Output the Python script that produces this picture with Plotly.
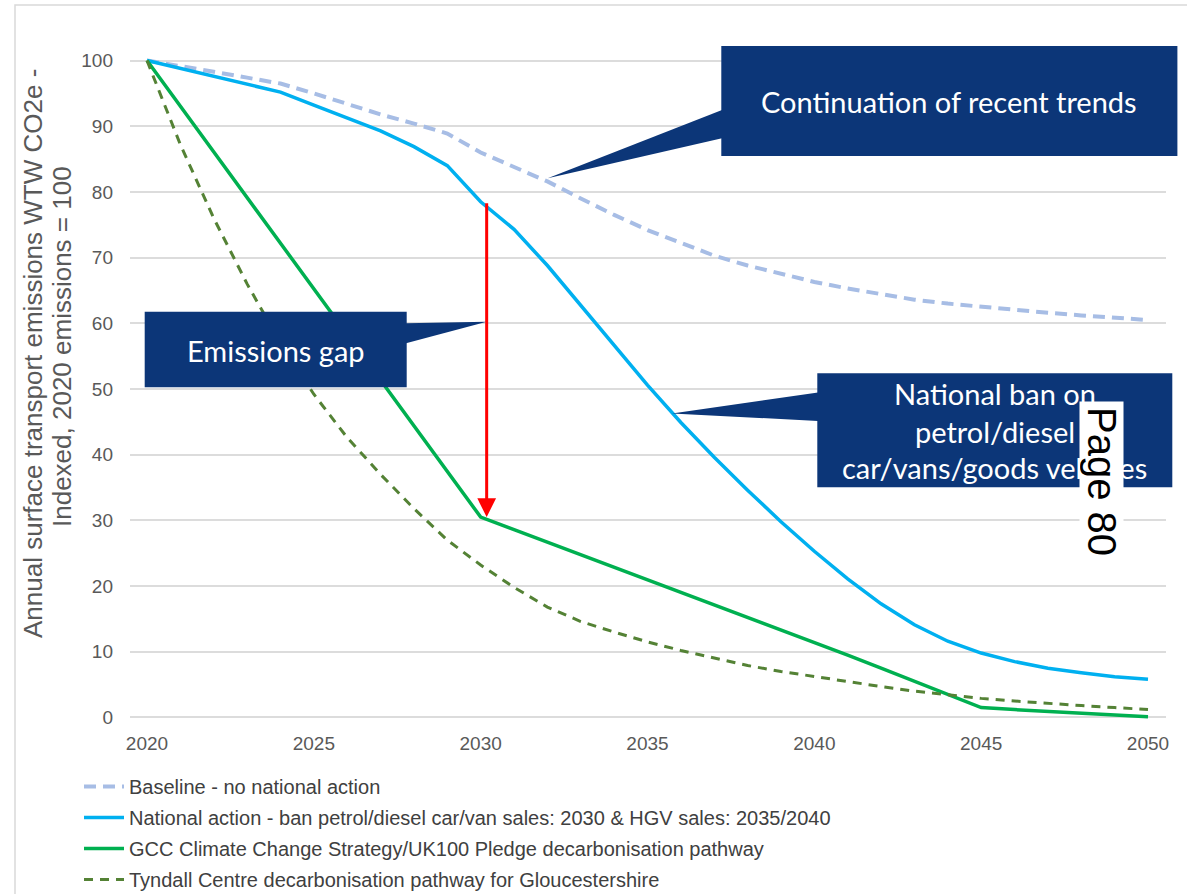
import plotly.graph_objects as go

# ---- data -------------------------------------------------------------
years = list(range(2020, 2051))

baseline = [100, 99.2, 98.3, 97.4, 96.5, 95.0, 93.4, 91.8, 90.4, 88.9,
            86.0, 83.8, 81.6, 79.0, 76.5, 74.2, 72.2, 70.3, 68.8, 67.5,
            66.3, 65.3, 64.4, 63.6, 63.0, 62.5, 62.0, 61.6, 61.2, 60.8, 60.5]

national = [100, 98.8, 97.5, 96.3, 95.2, 93.2, 91.3, 89.3, 86.9, 84.0,
            78.5, 74.3, 68.8, 62.8, 56.7, 50.6, 44.9, 39.6, 34.6, 29.8,
            25.3, 21.1, 17.3, 14.1, 11.6, 9.8, 8.5, 7.5, 6.8, 6.2, 5.8]

gcc = [100, 93.05, 86.1, 79.15, 72.2, 65.25, 58.3, 51.35, 44.4, 37.45,
       30.5, 28.6, 26.7, 24.8, 22.9, 21.0, 19.1, 17.2, 15.3, 13.4,
       11.5, 9.5, 7.5, 5.5, 3.5, 1.5, 1.2, 0.9, 0.6, 0.3, 0.1]

tyndall = [100, 87.2, 76.0, 66.0, 57.0, 49.2, 42.6, 37.0, 31.8, 27.0,
           23.2, 19.8, 16.8, 14.6, 13.0, 11.5, 10.2, 9.0, 7.9, 7.0,
           6.2, 5.4, 4.7, 4.0, 3.4, 2.9, 2.5, 2.1, 1.8, 1.5, 1.2]

series_names = [
    "Baseline - no national action",
    "National action - ban petrol/diesel car/van sales: 2030 & HGV sales: 2035/2040",
    "GCC Climate Change Strategy/UK100 Pledge decarbonisation pathway",
    "Tyndall Centre decarbonisation pathway for Gloucestershire",
]

x_tick_vals = [2020, 2025, 2030, 2035, 2040, 2045, 2050]
x_tick_text = ["2020", "2025", "2030", "2035", "2040", "2045", "2050"]
y_tick_vals = [0, 10, 20, 30, 40, 50, 60, 70, 80, 90, 100]

y_title_lines = ["Annual surface transport emissions WTW CO2e -",
                 "Indexed, 2020 emissions = 100"]
callout_trends = "Continuation of recent trends"
callout_gap = "Emissions gap"
callout_ban = ["National ban on", "petrol/diesel", "car/vans/goods vehicles"]
page_label = "Page 80"

# ---- geometry -----------------------------------------------------------
FIG_W, FIG_H = 1187, 894
M_L, M_R, M_T, M_B = 130, 21, 54, 170
PLOT_W = FIG_W - M_L - M_R
PLOT_H = FIG_H - M_T - M_B


def px(xp):
    """pixel x -> paper x"""
    return (xp - M_L) / PLOT_W


def py(yp):
    """pixel y (from top) -> paper y"""
    return (FIG_H - M_B - yp) / PLOT_H


NAVY = "#0c3678"
TICK_FONT = dict(family="Liberation Sans, Arial", size=19, color="#595959")

fig = go.Figure()

fig.add_trace(go.Scatter(
    x=years, y=baseline, name=series_names[0], mode="lines",
    line=dict(color="#a7bde5", width=4, dash="12px,7px"),
    legendgroup="a"))
fig.add_trace(go.Scatter(
    x=years, y=national, name=series_names[1], mode="lines",
    line=dict(color="#00b0f0", width=3.5), legendgroup="b"))
fig.add_trace(go.Scatter(
    x=years, y=gcc, name=series_names[2], mode="lines",
    line=dict(color="#00b050", width=3.5), legendgroup="c"))
fig.add_trace(go.Scatter(
    x=years, y=tyndall, name=series_names[3], mode="lines",
    line=dict(color="#548235", width=3, dash="9px,7px"), legendgroup="d"))

shapes = []

# outer chart frame
shapes.append(dict(type="rect", xref="paper", yref="paper",
                   x0=px(15), x1=px(1200), y0=py(5), y1=py(900),
                   line=dict(color="#d9d9d9", width=1.5), fillcolor="rgba(0,0,0,0)",
                   layer="below"))


def callout(x0, y0, x1, y1, tail):
    shapes.append(dict(type="rect", xref="paper", yref="paper",
                       x0=px(x0), x1=px(x1), y0=py(y0), y1=py(y1),
                       fillcolor=NAVY, line=dict(width=0), layer="above"))
    path = "M {} {} L {} {} L {} {} Z".format(
        px(tail[0][0]), py(tail[0][1]), px(tail[1][0]), py(tail[1][1]),
        px(tail[2][0]), py(tail[2][1]))
    shapes.append(dict(type="path", xref="paper", yref="paper", path=path,
                       fillcolor=NAVY, line=dict(width=0), layer="above"))


callout(721.3, 46, 1177.4, 156, [(722, 110), (547.7, 178.3), (722, 138.3)])
callout(144.7, 311.7, 406.7, 387.3, [(406, 323.3), (486.7, 321.7), (406, 343.3)])
callout(817.3, 373.3, 1172.3, 487.3, [(818, 392.4), (672, 413.4), (818, 421)])

annotations = []

# emissions gap arrow: from the national-action line down to the GCC pathway in 2030
i2030 = years.index(2030)
annotations.append(dict(
    x=2030, y=gcc[i2030], ax=2030, ay=national[i2030],
    xref="x", yref="y", axref="x", ayref="y", xshift=6,
    text="", showarrow=True, arrowhead=2, arrowsize=1.25, arrowwidth=3,
    arrowcolor="#ff0000", standoff=0, startstandoff=0))

BOX_FONT = dict(family="Lato, Open Sans, sans-serif", size=29, color="white")


def label(text, xc, yc, font, **kw):
    annotations.append(dict(text=text, x=px(xc), y=py(yc), xref="paper", yref="paper",
                            xanchor="center", yanchor="middle", showarrow=False,
                            font=font, **kw))


label(callout_trends, 949, 102, BOX_FONT)
label(callout_gap, 275.5, 350, BOX_FONT)
for line_text, yc in zip(callout_ban, [393, 431, 467]):
    label(line_text, 994.8, yc, BOX_FONT)

# axis title, two lines
title_font = dict(family="Liberation Sans, Arial", size=26, color="#595959")
label(y_title_lines[0], 33, 354, title_font, textangle=-90)
label(y_title_lines[1], 62, 347, title_font, textangle=-90)

# page number stamp
label(page_label, 1102, 481, dict(family="Liberation Sans, Arial", size=40, color="black"),
      textangle=90, bgcolor="white", width=159, height=43, borderpad=0)

fig.update_layout(
    width=FIG_W, height=FIG_H,
    margin=dict(l=M_L, r=M_R, t=M_T, b=M_B, autoexpand=False),
    paper_bgcolor="white", plot_bgcolor="white",
    shapes=shapes, annotations=annotations,
    showlegend=True,
    legend=dict(x=px(79), y=py(767), xanchor="left", yanchor="top",
                orientation="v", tracegroupgap=2, bgcolor="rgba(0,0,0,0)",
                font=dict(family="Liberation Sans, Arial", size=20, color="#404040"),
                itemwidth=40),
)

fig.update_xaxes(
    range=[2020 - 17 / 33.367, 2020 - 17 / 33.367 + PLOT_W / 33.367],
    tickvals=x_tick_vals, ticktext=x_tick_text, tickfont=TICK_FONT,
    showgrid=False, zeroline=False, showline=False, ticks="",
    ticklabelstandoff=6)
fig.update_yaxes(
    range=[-1, 101], tickvals=y_tick_vals, tickfont=TICK_FONT,
    showgrid=True, gridcolor="#dcdcdc", gridwidth=1.5, zeroline=False,
    showline=False, ticks="", ticklabelstandoff=16)

fig.write_html("out.html")
